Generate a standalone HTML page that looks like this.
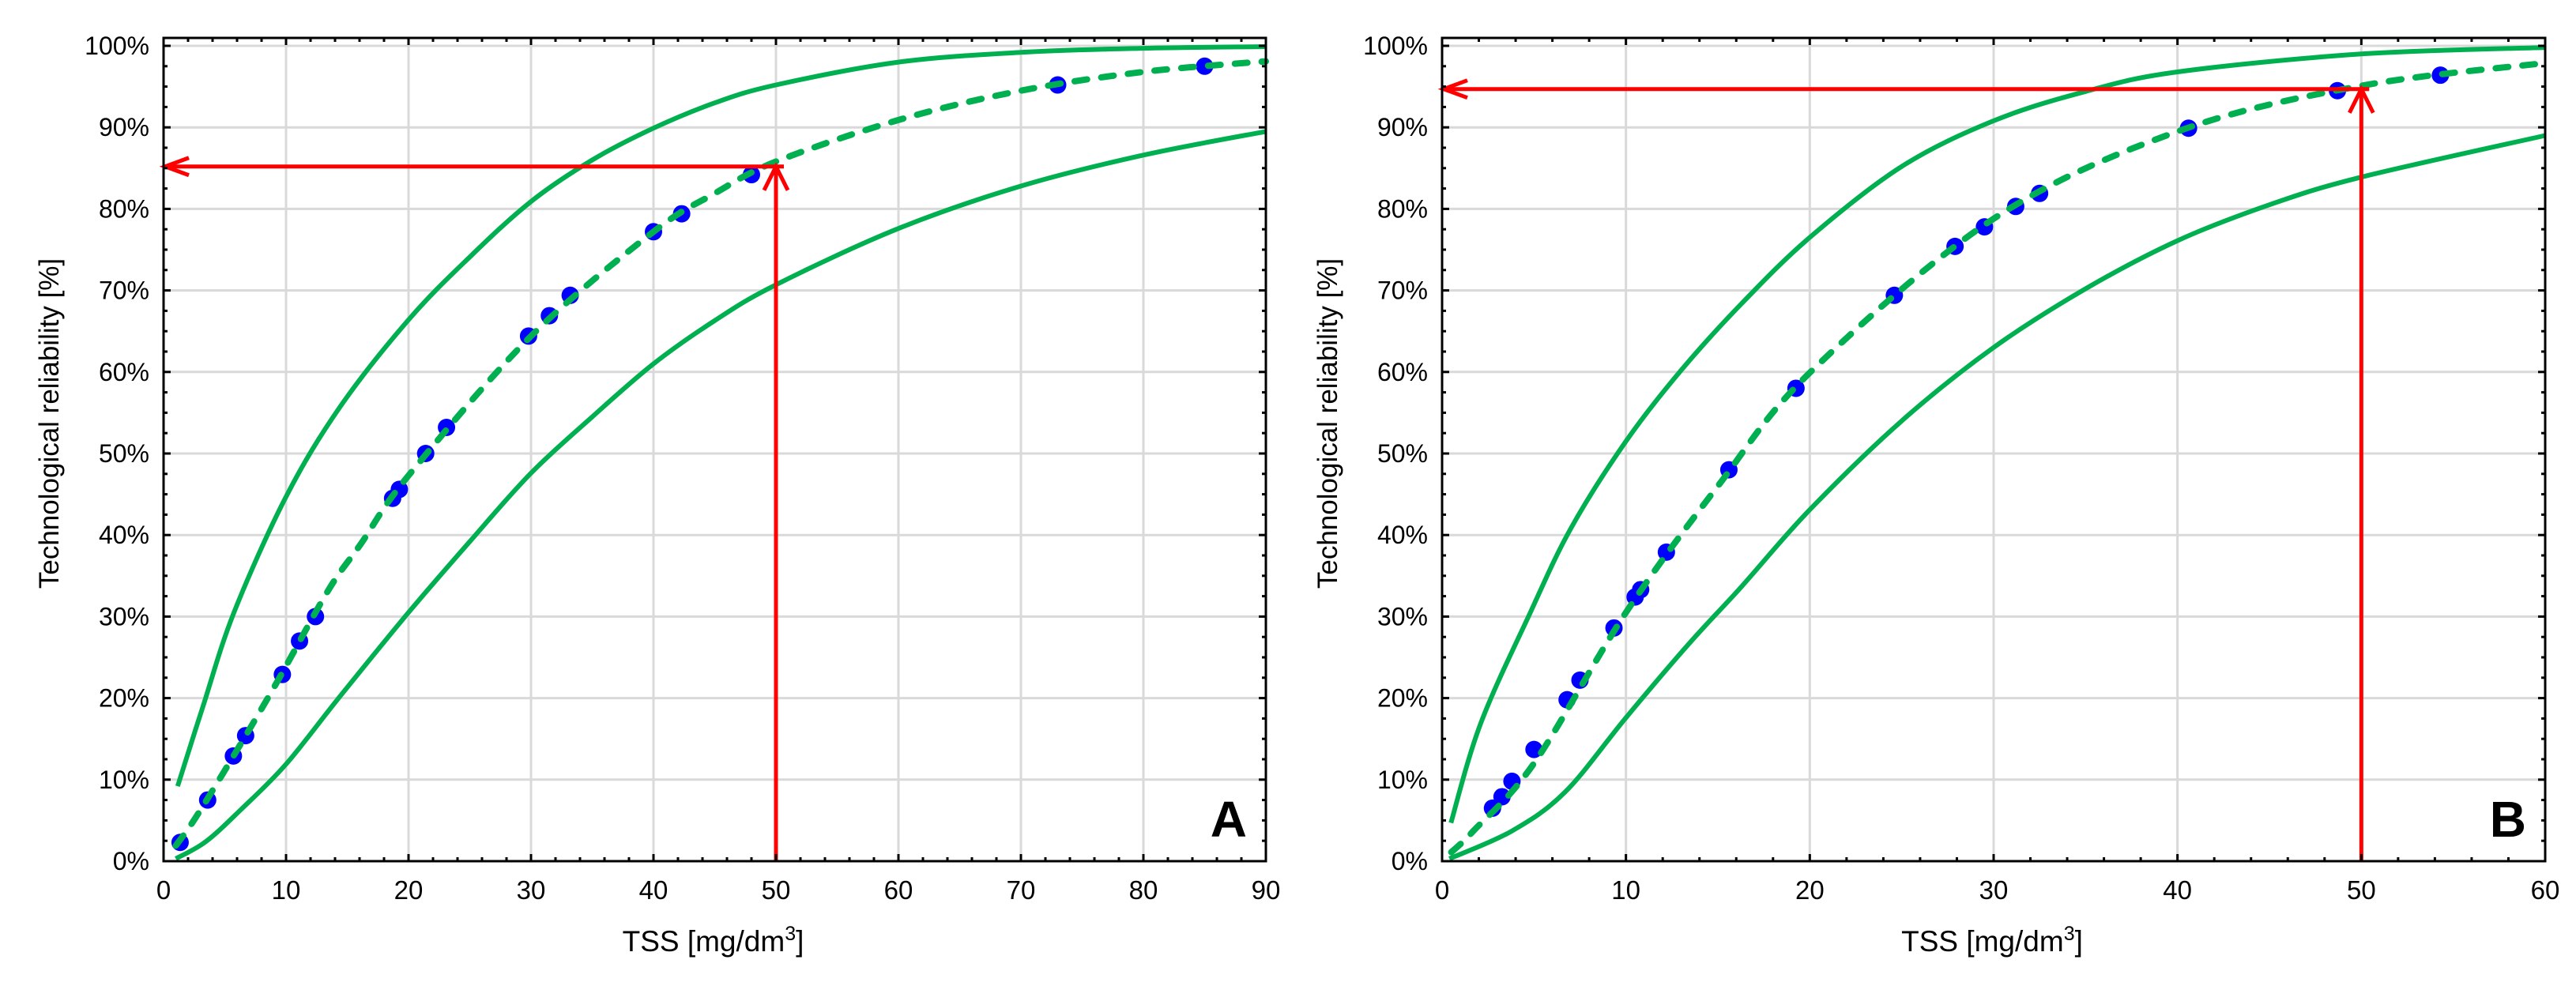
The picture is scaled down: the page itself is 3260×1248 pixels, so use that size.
<!DOCTYPE html>
<html><head><meta charset="utf-8"><style>
html,body{margin:0;padding:0;background:#fff;}
svg{display:block;font-family:"Liberation Sans",Arial,sans-serif;}
</style></head><body>
<svg id="chart" width="3260" height="1248" viewBox="0 0 3260 1248" xmlns="http://www.w3.org/2000/svg"></svg>
<script>
// ---------- Panel A data ----------
const aPointsX = [1.35,3.6,5.7,6.7,9.7,11.1,12.4,18.7,19.25,21.4,23.1,29.8,31.5,33.2,40,42.3,48,73,85];
const aPointsY = [2.3,7.5,12.9,15.4,22.9,27,30,44.5,45.6,50,53.2,64.4,66.9,69.4,77.2,79.4,84.2,95.2,97.5];
const aUpperX = [1.15,3.2,5.75,10,14.4,20,25,30,35,40,45,50,60,70,80,90];
const aUpperY = [9.2,18.9,30.5,44.7,55.7,66.4,74.1,80.9,86.0,89.9,93.0,95.2,98.0,99.2,99.7,99.9];
const aLowerX = [1,3.45,6.3,10,14.4,20,25,30,35,40,45,50,60,70,80,90];
const aLowerY = [0.3,2.4,6.3,11.9,20.2,30.5,39.2,47.6,54.5,61.0,66.3,70.7,77.6,82.8,86.6,89.5];
const aFitX = [1,2.6,5.75,9.2,13.4,16.1,20,30,40,45,50,60,70,80,90];
const aFitY = [1.9,5.3,13,21.8,33.1,38.9,47.3,64.4,77.2,81.9,85.8,90.9,94.5,96.8,98.1];
const aArrowX = 50, aArrowY = 85.2;
const aXTicks = [0,10,20,30,40,50,60,70,80,90];
// ---------- Panel B data ----------
const bPointsX = [2.74,3.26,3.8,5.0,6.8,7.5,9.35,10.5,10.8,12.2,15.6,19.25,24.6,27.9,29.5,31.2,32.5,40.6,48.7,54.3];
const bPointsY = [6.5,7.9,9.8,13.7,19.8,22.2,28.6,32.4,33.3,37.9,48,58,69.4,75.4,77.8,80.3,81.9,89.9,94.5,96.4];
const bUpperX = [0.48,2.1,4.8,7,10,13,16.3,20,25,30,35,40,50,60];
const bUpperY = [4.7,16.9,30.5,40.8,51.5,60.2,68.4,76.5,85.2,90.8,94.4,96.8,99,99.8];
const bLowerX = [0.4,3.8,6.7,10,13.4,16.3,20,25,30,35,40,45,50,60];
const bLowerY = [0.3,3.7,8.5,17.6,26.6,33.7,43.1,54.0,63,70.2,76.1,80.5,83.9,89];
const bFitX = [0.5,1.7,5,10,15,20,30,40,50,60];
const bFitY = [1.1,3.7,12,30.5,46,59.9,78.8,89.5,95.1,97.9];
const bArrowX = 50, bArrowY = 94.7;
const bXTicks = [0,10,20,30,40,50,60];
const yTicks = [0,10,20,30,40,50,60,70,80,90,100];

const svg = document.getElementById('chart');
const NS = 'http://www.w3.org/2000/svg';
function mk(tag, attrs, parent){const e=document.createElementNS(NS,tag);for(const k in attrs)e.setAttribute(k,attrs[k]);(parent||svg).appendChild(e);return e;}
function smooth(pts){
  let d='M'+pts[0][0].toFixed(1)+','+pts[0][1].toFixed(1);
  for(let i=0;i<pts.length-1;i++){
    const p0=pts[Math.max(0,i-1)],p1=pts[i],p2=pts[i+1],p3=pts[Math.min(pts.length-1,i+2)];
    const c1x=p1[0]+(p2[0]-p0[0])/6,c1y=p1[1]+(p2[1]-p0[1])/6;
    const c2x=p2[0]-(p3[0]-p1[0])/6,c2y=p2[1]-(p3[1]-p1[1])/6;
    d+=' C'+c1x.toFixed(1)+','+c1y.toFixed(1)+' '+c2x.toFixed(1)+','+c2y.toFixed(1)+' '+p2[0].toFixed(1)+','+p2[1].toFixed(1);
  }
  return d;
}
function panel(cfg){
  const {left,right,xmax,xTicks,minorStep,pX,pY,uX,uY,lX,lY,fX,fY,arX,arY,letter,id}=cfg;
  const top=48,bottom=1090,y100=58;
  const sx=v=>left+(right-left)*v/xmax;
  const sy=v=>bottom-(bottom-y100)*v/100;
  const g=mk('g',{});
  
  
  const grid=mk('g',{stroke:'#d9d9d9','stroke-width':3},g);
  
  
  xTicks.forEach(t=>{if(t>0&&t<xmax)mk('line',{x1:sx(t),x2:sx(t),y1:top,y2:bottom},grid);});
  yTicks.forEach(t=>{if(t>0)mk('line',{x1:left,x2:right,y1:sy(t),y2:sy(t)},grid);});
  const curves=[[uX,uY,'upper-confidence-curve'],[lX,lY,'lower-confidence-curve']];
  curves.forEach(([xs,ys,nm])=>{
    const pts=xs.map((x,i)=>[sx(x),sy(ys[i])]);
    const p=mk('path',{d:smooth(pts),fill:'none',stroke:'#00b050','stroke-width':6},g);
    
    
  });
  pX.forEach((x,i)=>{
    const c=mk('circle',{cx:sx(x),cy:sy(pY[i]),r:11,fill:'#0000ff'},g);
    
    
  });
  const fp=mk('path',{d:smooth(fX.map((x,i)=>[sx(x),sy(fY[i])])),fill:'none',stroke:'#00b050','stroke-width':8,'stroke-dasharray':'16 18','stroke-linecap':'round'},g);
  
  
  const ax=sx(arX),ay=sy(arY);
  const arr=mk('g',{stroke:'#ff0000','stroke-width':5,fill:'none'},g);
  
  
  mk('line',{x1:ax,y1:bottom,x2:ax,y2:ay},arr);
  mk('polyline',{points:`${ax-15},${ay+30} ${ax},${ay} ${ax+15},${ay+30}`},arr);
  mk('line',{x1:ax+10,y1:ay,x2:left+2,y2:ay},arr);
  mk('polyline',{points:`${left+32},${ay-11} ${left+2},${ay} ${left+32},${ay+11}`},arr);
  const fr=mk('rect',{x:left,y:top,width:right-left,height:bottom-top,fill:'none',stroke:'#000','stroke-width':3},g);
  
  
  const tk=mk('g',{stroke:'#000','stroke-width':3},g);
  
  
  for(let v=0;v<=xmax+1e-6;v+=minorStep){
    const major=xTicks.includes(Math.round(v*100)/100);const L=major?9:5;
    mk('line',{x1:sx(v),x2:sx(v),y1:bottom,y2:bottom-L},tk);
    mk('line',{x1:sx(v),x2:sx(v),y1:top,y2:top+L},tk);
  }
  for(let v=0;v<=100;v+=2.5){
    const major=v%10===0;const L=major?9:5;
    mk('line',{x1:left,x2:left+L,y1:sy(v),y2:sy(v)},tk);
    mk('line',{x1:right,x2:right-L,y1:sy(v),y2:sy(v)},tk);
  }
  xTicks.forEach(t=>{
    const tx=mk('text',{x:sx(t),y:1138,'font-size':33,'text-anchor':'middle',fill:'#000'},g);
    tx.textContent=t;
    
    
  });
  yTicks.forEach(t=>{
    const tx=mk('text',{x:left-18,y:sy(t)+11,'font-size':32,'text-anchor':'end',fill:'#000'},g);
    tx.textContent=t+'%';
    
    
  });
  const xl=mk('text',{x:(left+right)/2-2,y:1204,'font-size':37,'text-anchor':'middle',fill:'#000'},g);
  xl.innerHTML='TSS [mg/dm<tspan dy="-14" font-size="25">3</tspan><tspan dy="14">]</tspan>';
  
  
  const yl=mk('text',{x:0,y:0,'font-size':35,'text-anchor':'middle',fill:'#000',transform:`translate(${left-133},536) rotate(-90)`},g);
  yl.textContent='Technological reliability [%]';
  
  
  const lt=mk('text',{x:right-24,y:1059,'font-size':64,'font-weight':'bold','text-anchor':'end',fill:'#000'},g);
  lt.textContent=letter;
  
  
}
panel({id:'a',left:207,right:1602,xmax:90,xTicks:aXTicks,minorStep:2,pX:aPointsX,pY:aPointsY,uX:aUpperX,uY:aUpperY,lX:aLowerX,lY:aLowerY,fX:aFitX,fY:aFitY,arX:aArrowX,arY:aArrowY,letter:'A'});
panel({id:'b',left:1825,right:3221,xmax:60,xTicks:bXTicks,minorStep:2,pX:bPointsX,pY:bPointsY,uX:bUpperX,uY:bUpperY,lX:bLowerX,lY:bLowerY,fX:bFitX,fY:bFitY,arX:bArrowX,arY:bArrowY,letter:'B'});
</script>
</body></html>
